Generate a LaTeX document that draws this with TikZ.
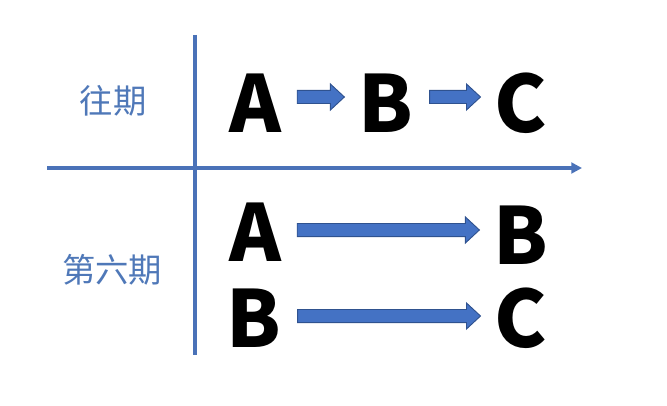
\documentclass[tikz,border=0pt]{standalone}
\usepackage{fontspec}
\usepackage{tikz}
\usetikzlibrary{calc,arrows.meta}
\newfontfamily\cjk{Noto Sans CJK SC}

\definecolor{axisblue}{HTML}{4A72B8}
\definecolor{labelblue}{HTML}{4F78B8}
\definecolor{arrowfill}{HTML}{4472C4}
\definecolor{arrowedge}{HTML}{2F528F}

\tikzset{
	letter/.style={inner sep=0pt, font=\cjk\bfseries\fontsize{59}{62}\selectfont},
	period/.style={inner sep=0pt, text=labelblue, font=\cjk\fontsize{25}{28}\selectfont},
	axis/.style={draw=axisblue, line width=2.4pt},
	blk/.style={draw=arrowedge, fill=arrowfill, line width=0.7pt, line join=miter,
		to path={let \p1=($(\tikztostart.east)+(16,#1)$), \p2=($(\tikztotarget.west)+(-14,#1)$) in
			(\x1,\y1+4.9pt) -- (\x2-10.5pt,\y1+4.9pt) -- (\x2-10.5pt,\y1+9.75pt) -- (\x2,\y1)
			-- (\x2-10.5pt,\y1-9.75pt) -- (\x2-10.5pt,\y1-4.9pt) -- (\x1,\y1-4.9pt) -- cycle}},
	blk/.default=0
}

\begin{document}
\begin{tikzpicture}[x=0.75pt, y=-0.75pt]
	\useasboundingbox (0,0) rectangle (667,406);

	\coordinate (left)  at (47, 168);
	\coordinate (right) at (582, 168);
	\coordinate (top)   at (195, 35);
	\coordinate (bot)   at (195, 355);

	\draw[axis] (top) -- (bot);
	\draw[axis, -{Triangle[length=8pt, width=8pt]}] (left) -- (right);

	\node[period] (past) at (113, 101) {往期};
	\node[period] (now)  at (112, 270) {第六期};

	\node[letter] (a1) at (255, 103) {A};
	\node[letter] (b1) at (386, 103) {B};
	\node[letter] (c1) at (521, 103) {C};
	\node[letter] (a2) at (255, 232) {A};
	\node[letter] (b2) at (521, 235) {B};
	\node[letter] (b3) at (254, 318) {B};
	\node[letter] (c3) at (521, 318) {C};

	\draw[blk=-6] (a1) to (b1);
	\draw[blk=-6] (b1) to (c1);
	\draw[blk=-2] (a2) to (b2);
	\draw[blk=-2] (b3) to (c3);

\end{tikzpicture}
\end{document}
